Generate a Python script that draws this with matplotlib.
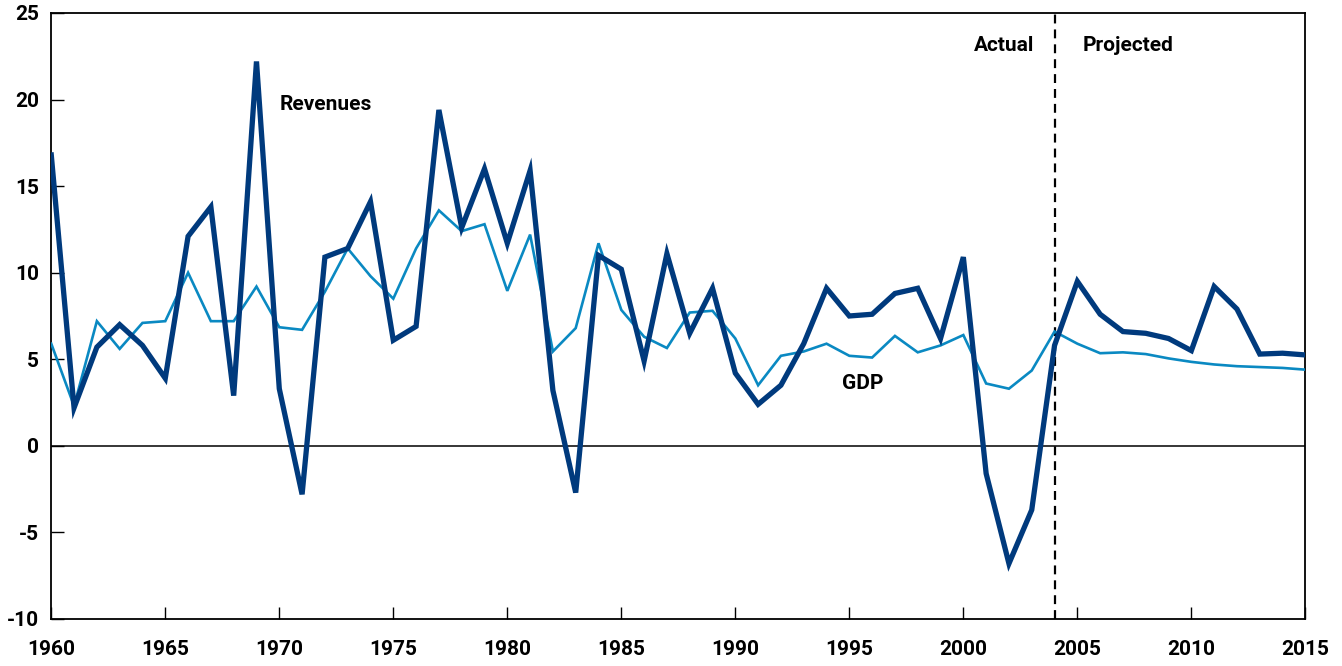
import matplotlib
matplotlib.use("Agg")
import matplotlib.pyplot as plt

years = list(range(1960, 2016))
revenues = [16.8, 2.2, 5.7, 7.0, 5.8, 3.9, 12.1, 13.8, 2.9, 22.2,
            3.3, -2.8, 10.9, 11.4, 14.1, 6.1, 6.9, 19.4, 12.6, 16.0,
            11.7, 15.9, 3.2, -2.7, 11.0, 10.2, 4.9, 11.1, 6.5, 9.1,
            4.2, 2.4, 3.5, 5.9, 9.1, 7.5, 7.6, 8.8, 9.1, 6.2,
            10.9, -1.6, -6.8, -3.7, 5.8, 9.5, 7.6, 6.6, 6.5, 6.2,
            5.5, 9.2, 7.9, 5.3, 5.35, 5.25]
gdp = [5.9, 2.3, 7.2, 5.6, 7.1, 7.2, 10.0, 7.2, 7.2, 9.2,
       6.85, 6.7, 8.9, 11.4, 9.8, 8.5, 11.4, 13.6, 12.4, 12.8,
       8.95, 12.2, 5.45, 6.8, 11.7, 7.85, 6.3, 5.65, 7.7, 7.8,
       6.2, 3.5, 5.2, 5.45, 5.9, 5.2, 5.1, 6.35, 5.4, 5.8,
       6.4, 3.6, 3.3, 4.35, 6.6, 5.9, 5.35, 5.4, 5.3, 5.05,
       4.85, 4.7, 4.6, 4.55, 4.5, 4.4]
divider_year = 2004
xticks = list(range(1960, 2016, 5))
yticks = list(range(-10, 26, 5))

plt.rcParams['font.family'] = ['Roboto', 'DejaVu Sans']
plt.rcParams['axes.unicode_minus'] = False

fig = plt.figure(figsize=(13.42, 6.66), dpi=100)
ax = fig.add_axes([0.0382, 0.0706, 0.9345, 0.9099])

ax.plot(years, gdp, color='#0A89C2', lw=1.9, zorder=3, solid_joinstyle='miter')
ax.plot(years, revenues, color='#003A7D', lw=3.8, zorder=4, solid_joinstyle='miter')
ax.axhline(0, color='black', lw=1.1, zorder=2)
ax.axvline(divider_year, color='black', lw=1.6, ls=(0, (4, 2.7)), zorder=2)

ax.set_xlim(1960, 2015)
ax.set_ylim(-10, 25)
ax.set_xticks(xticks)
ax.set_yticks(yticks)
ax.tick_params(direction='in', length=9, width=1.0, labelsize=15)
ax.tick_params(axis='x', pad=15)
ax.tick_params(axis='y', pad=9)
for lab in ax.get_xticklabels() + ax.get_yticklabels():
    lab.set_fontweight('bold')
for s in ax.spines.values():
    s.set_linewidth(1.3)

tkw = dict(fontsize=15, fontweight='bold', color='black')
ax.text(1970.0, 19.7, 'Revenues', ha='left', va='center', **tkw)
ax.text(1994.7, 3.6, 'GDP', ha='left', va='center', **tkw)
ax.text(2003.1, 23.15, 'Actual', ha='right', va='center', **tkw)
ax.text(2005.25, 23.15, 'Projected', ha='left', va='center', **tkw)

fig.savefig('out.png', dpi=100)
